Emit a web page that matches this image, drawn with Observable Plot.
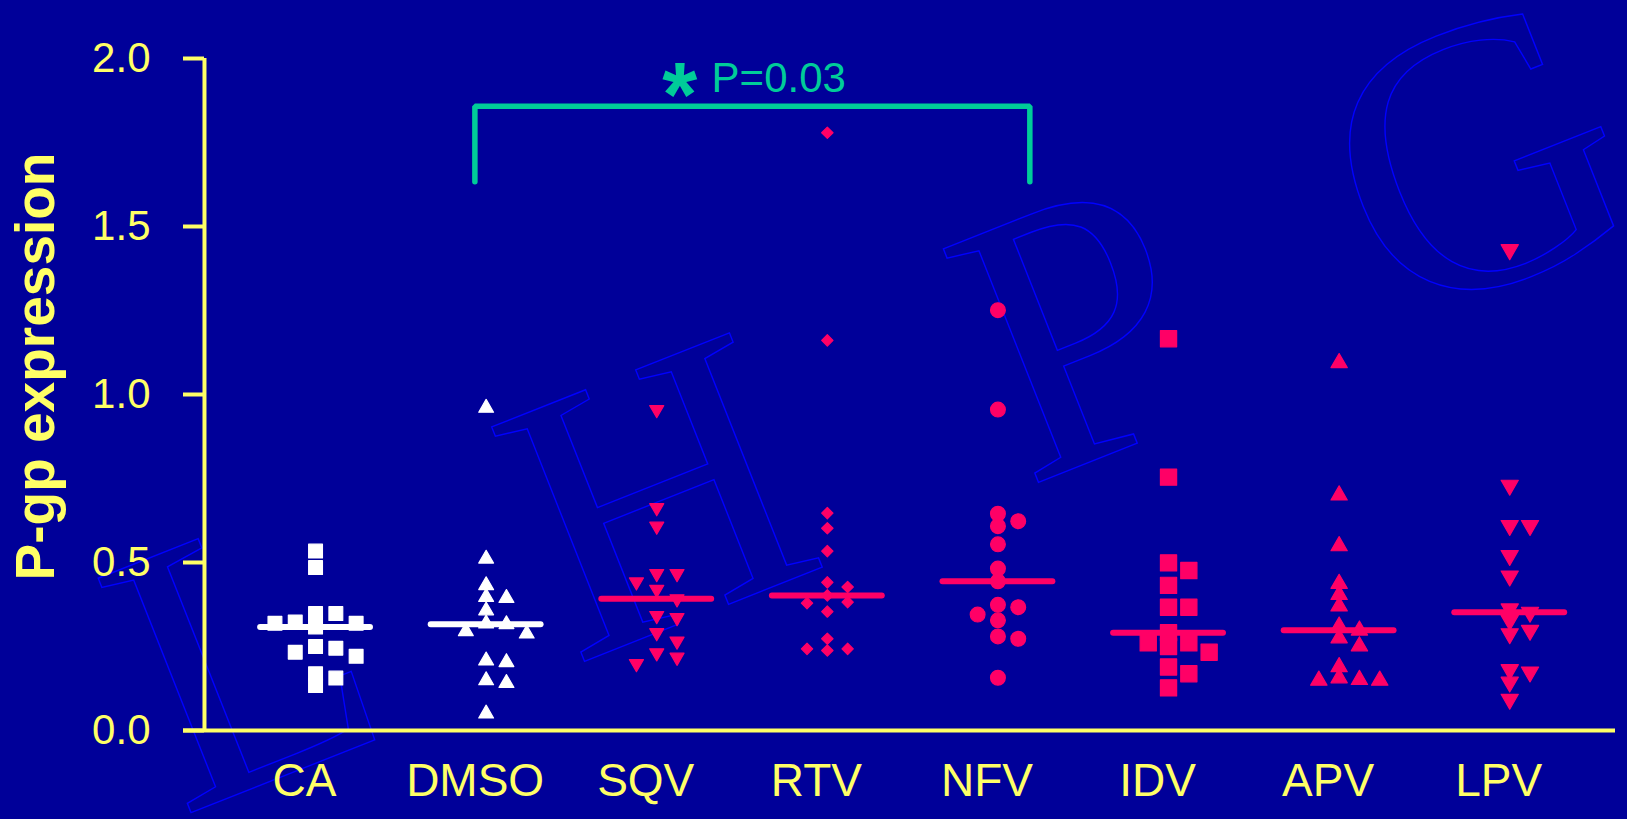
<!DOCTYPE html>
<html>
<head>
<meta charset="utf-8">
<script src="https://cdn.jsdelivr.net/npm/d3@7"></script>
<script src="https://cdn.jsdelivr.net/npm/@observablehq/plot@0.6"></script>
<style>
  html, body { margin: 0; padding: 0; background: #000099; }
  #chart { width: 1627px; height: 819px; overflow: hidden; }
</style>
</head>
<body>
<div id="chart"></div>
<script>
// Treatment groups along the x axis
const categories = ["CA", "DMSO", "SQV", "RTV", "NFV", "IDV", "APV", "LPV"];

// P-gp expression per sample, one array per group
const valuesCA   = [0.534, 0.485, 0.348, 0.348, 0.323, 0.319, 0.319, 0.308, 0.250, 0.245, 0.233, 0.221, 0.169, 0.156, 0.134];
const valuesDMSO = [0.960, 0.511, 0.432, 0.397, 0.394, 0.357, 0.318, 0.316, 0.295, 0.288, 0.208, 0.203, 0.149, 0.141, 0.050];
const valuesSQV  = [0.955, 0.663, 0.608, 0.467, 0.467, 0.442, 0.420, 0.392, 0.342, 0.336, 0.291, 0.266, 0.231, 0.218, 0.199];
const valuesRTV  = [1.779, 1.161, 0.647, 0.602, 0.534, 0.441, 0.427, 0.402, 0.382, 0.379, 0.354, 0.273, 0.243, 0.243, 0.238];
const valuesNFV  = [1.251, 0.955, 0.645, 0.623, 0.608, 0.554, 0.482, 0.444, 0.374, 0.367, 0.345, 0.328, 0.280, 0.273, 0.157];
const valuesIDV  = [1.166, 0.754, 0.499, 0.476, 0.432, 0.367, 0.367, 0.291, 0.261, 0.261, 0.250, 0.233, 0.189, 0.169, 0.127];
const valuesAPV  = [1.094, 0.700, 0.549, 0.437, 0.404, 0.370, 0.310, 0.298, 0.275, 0.251, 0.189, 0.156, 0.151, 0.149, 0.149];
const valuesLPV  = [1.431, 0.730, 0.610, 0.610, 0.521, 0.460, 0.362, 0.352, 0.328, 0.298, 0.288, 0.181, 0.174, 0.144, 0.093];

// Y axis ticks
const yTicks = [0, 0.5, 1.0, 1.5, 2.0];
const yLabel = "P-gp expression";

// Significance annotation
const comparison = {from: "DMSO", to: "NFV", label: "P=0.03"};

// Background lettering
const watermarkLetters = ["L", "H", "P", "G"];

// ---------------------------------------------------------------------------
const groupValues = [valuesCA, valuesDMSO, valuesSQV, valuesRTV, valuesNFV, valuesIDV, valuesAPV, valuesLPV];

const BG = "#000099", YELLOW = "#ffff66", PINK = "#ff0066", TEAL = "#00cc99", WHITE = "#ffffff";

const width = 1627, height = 819;
const marginLeft = 183, marginRight = 12, marginTop = 58, marginBottom = 89;
const xDomain = [-0.774, 7.62];     // group index units
const yAxisAt = -0.651;             // where the vertical axis line sits
const pxPerUnit = (height - marginTop - marginBottom) / 2;
const pxPerIndex = (width - marginLeft - marginRight) / (xDomain[1] - xDomain[0]);

// downward pointing triangle, same area convention as d3.symbolTriangle
const sqrt3 = Math.sqrt(3);
const triangleDown = {
  draw(context, size) {
    const y = -Math.sqrt(size / (sqrt3 * 3));
    context.moveTo(0, -y * 2);
    context.lineTo(sqrt3 * y, y);
    context.lineTo(-sqrt3 * y, y);
    context.closePath();
  }
};

// radius for Plot.dot so the symbol spans `w` pixels
const rSquare = w => w / Math.sqrt(Math.PI);
const rTriangle = w => Math.sqrt((w * w * sqrt3 / 4) / Math.PI);
const rDiamond = w => Math.sqrt((w * w / 2) / Math.PI);
const rCircle = w => w / 2;

const groupStyles = [
  {symbol: "square",   color: WHITE, r: rSquare(13.8)},
  {symbol: "triangle", color: WHITE, r: rTriangle(14.8)},
  {symbol: triangleDown, color: PINK, r: rTriangle(14)},
  {symbol: "diamond2", color: PINK, r: rDiamond(12.8)},
  {symbol: "circle",   color: PINK, r: rCircle(14.8)},
  {symbol: "square",   color: PINK, r: rSquare(16.2)},
  {symbol: "triangle", color: PINK, r: rTriangle(16.3)},
  {symbol: triangleDown, color: PINK, r: rTriangle(17.2)}
];

// Column scatter: samples with close values are pushed into side columns
const colStep = 20.3 / pxPerIndex;
const minGap = 11 / pxPerUnit;
function columnsFor(values) {
  const order = d3.range(values.length).sort((a, b) => values[b] - values[a]);
  const placed = [];
  const cols = new Array(values.length);
  for (const i of order) {
    const v = values[i];
    for (const c of [0, 1, -1, 2, -2, 3, -3, 4, -4]) {
      if (placed.every(p => p.col !== c || Math.abs(p.v - v) >= minGap)) {
        cols[i] = c;
        placed.push({col: c, v});
        break;
      }
    }
  }
  return cols;
}

const groups = categories.map((name, i) => {
  const values = groupValues[i];
  const cols = columnsFor(values);
  return {
    name, index: i, style: groupStyles[i],
    median: d3.median(values),
    points: values.map((v, j) => ({name, index: i, value: v, col: cols[j]}))
  };
});

// Bracket between the compared groups
const iFrom = categories.indexOf(comparison.from);
const iTo = categories.indexOf(comparison.to);
const bracketTop = 1.858, bracketLow = 1.633;
const bx1 = iFrom - 0.066, bx2 = iTo + 0.187;
const bracket = [
  {x: bx1, y: bracketLow}, {x: bx1, y: bracketTop},
  {x: bx2, y: bracketTop}, {x: bx2, y: bracketLow}
];
const bracketMid = (bx1 + bx2) / 2;

const marks = [
  // axis lines and ticks
  Plot.ruleY([0], {stroke: YELLOW, strokeWidth: 4}),
  Plot.ruleX([yAxisAt], {y1: 0, y2: 2, stroke: YELLOW, strokeWidth: 4}),
  Plot.ruleY(yTicks, {x1: xDomain[0], x2: yAxisAt, stroke: YELLOW, strokeWidth: 4}),
  Plot.axisY({ticks: yTicks, tickFormat: d3.format(".1f"), tickSize: 0, tickPadding: 33,
              fontSize: 42, color: YELLOW, label: null}),
  Plot.axisX({ticks: d3.range(categories.length), tickFormat: i => categories[i],
              tickSize: 0, tickPadding: 33, fontSize: 46, color: YELLOW, dx: -11, label: null}),
  Plot.text([yLabel], {frameAnchor: "left", dx: 53 - marginLeft, dy: -28, rotate: -90,
              fontSize: 55, fontWeight: "bold", fill: YELLOW, textAnchor: "middle", lineAnchor: "bottom"}),
  // significance bracket
  Plot.line(bracket, {x: "x", y: "y", stroke: TEAL, strokeWidth: 5.5,
              strokeLinecap: "round", strokeLinejoin: "miter"}),
  Plot.text(["*"], {x: bracketMid - 0.425, y: 1.80, fontSize: 90, fontWeight: "bold",
              fill: TEAL, textAnchor: "middle", lineAnchor: "bottom"}),
  Plot.text([comparison.label], {x: bracketMid - 0.239, y: 1.90, fontSize: 42,
              fill: TEAL, textAnchor: "start", lineAnchor: "bottom"})
];

for (const g of groups) {
  const s = g.style;
  marks.push(Plot.dot(g.points, {
    x: d => d.index + d.col * colStep, y: "value",
    symbol: s.symbol, r: s.r, fill: s.color, stroke: s.color,
    strokeWidth: 1.2, strokeLinejoin: "round"
  }));
}
// median line per group
for (const g of groups) {
  marks.push(Plot.ruleY([g], {
    y: "median", x1: d => d.index - 0.322, x2: d => d.index + 0.322,
    stroke: g.style.color, strokeWidth: 6, strokeLinecap: "round"
  }));
}

const plot = Plot.plot({
  width, height, marginLeft, marginRight, marginTop, marginBottom,
  style: {background: BG, color: YELLOW, fontFamily: "'Liberation Sans', Arial, Helvetica, sans-serif", overflow: "visible"},
  x: {type: "linear", domain: xDomain},
  y: {type: "linear", domain: [0, 2]},
  marks
});

// outlined lettering behind the chart
const letterOrigins = [[180.7, 816.7], [574.2, 665.4], [1025.9, 487.3], [1394, 327]];
const wm = d3.select(plot).insert("g", ":first-child").attr("aria-hidden", "true");
watermarkLetters.forEach((ch, k) => {
  const [ox, oy] = letterOrigins[k];
  wm.append("text")
    .attr("transform", `translate(${ox},${oy}) rotate(-21.6)`)
    .attr("text-anchor", "start")
    .attr("font-family", "'Liberation Serif', 'Times New Roman', serif")
    .attr("font-size", 385)
    .attr("fill", "none")
    .attr("stroke", "#0000ff")
    .attr("stroke-width", 1.4)
    .text(ch);
});

document.getElementById("chart").appendChild(plot);
</script>
</body>
</html>
